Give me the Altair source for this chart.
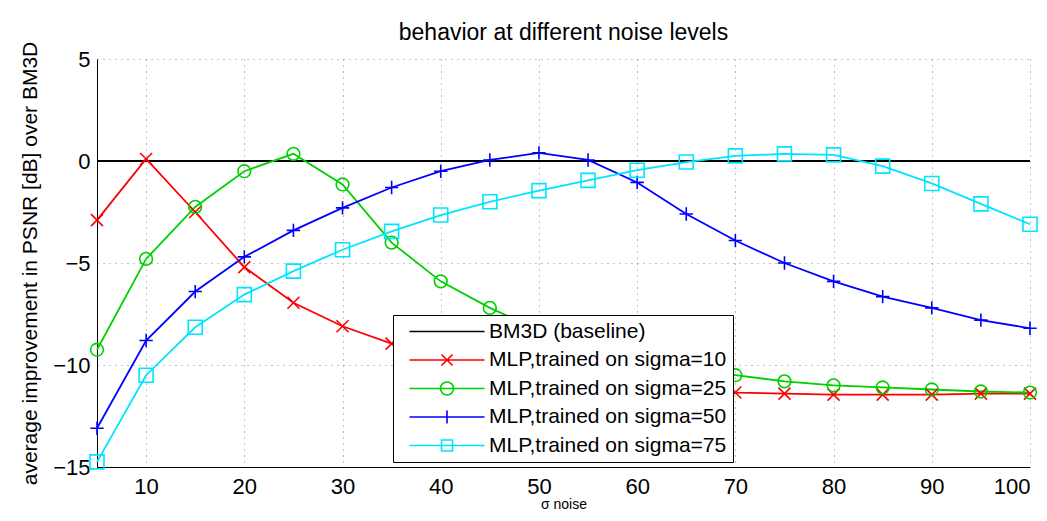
import altair as alt
import pandas as pd

sigma = [5, 10, 15, 20, 25, 30, 35, 40, 45, 50, 55, 60, 65, 70, 75, 80, 85, 90, 95, 100]
bm3d = [0] * 20
mlp10 = [-2.9, 0.1, -2.5, -5.2, -6.95, -8.1, -8.95, -9.6, -10.1, -10.5, -10.8, -11.0, -11.2,
         -11.35, -11.4, -11.45, -11.45, -11.45, -11.4, -11.4]
mlp25 = [-9.25, -4.8, -2.25, -0.5, 0.35, -1.15, -4.0, -5.9, -7.2, -8.3, -9.1, -9.7, -10.15,
         -10.5, -10.8, -11.0, -11.1, -11.2, -11.3, -11.35]
mlp50 = [-13.1, -8.8, -6.4, -4.7, -3.4, -2.3, -1.3, -0.5, 0.05, 0.4, 0.05, -1.05, -2.6,
         -3.9, -5.0, -5.9, -6.65, -7.2, -7.8, -8.2]
mlp75 = [-14.75, -10.5, -8.15, -6.55, -5.4, -4.35, -3.45, -2.65, -2.0, -1.45, -0.95, -0.45, -0.05,
         0.25, 0.35, 0.3, -0.25, -1.1, -2.1, -3.1]

names = ["BM3D (baseline)", "MLP,trained on sigma=10", "MLP,trained on sigma=25",
         "MLP,trained on sigma=50", "MLP,trained on sigma=75"]
colors = ["#000000", "#ff0000", "#00d000", "#0000ff", "#00e5ff"]
x_ticks = [10, 20, 30, 40, 50, 60, 70, 80, 90, 100]
y_ticks = [-15, -10, -5, 0, 5]

rows = []
for name, vals in zip(names, [bm3d, mlp10, mlp25, mlp50, mlp75]):
    for s, v in zip(sigma, vals):
        rows.append({"sigma": s, "psnr": v, "series": name})
df = pd.DataFrame(rows)

mlp_names = names[1:]
marker_shapes = ["M-1,-1L1,1M-1,1L1,-1", "circle", "M-1,0H1M0,-1V1", "square"]
marker_sizes = [144, 196, 196, 121]
legend_shapes = [
    "M0,0H15",
    "M0,0H15M6.4,-1.1L8.6,1.1M6.4,1.1L8.6,-1.1",
    "M0,0H15M8.8,0A1.3,1.3 0 1,1 6.2,0A1.3,1.3 0 1,1 8.8,0",
    "M0,0H15M7.5,-1.3V1.3",
    "M0,0H15M6.4,-1.1H8.6V1.1H6.4Z",
]

xenc = alt.X("sigma:Q", scale=alt.Scale(domain=[5, 100], nice=False, zero=False),
             axis=alt.Axis(values=x_ticks, title="σ noise"))
yenc = alt.Y("psnr:Q", scale=alt.Scale(domain=[-15, 5], nice=False),
             axis=alt.Axis(values=y_ticks, title="average improvement in PSNR [dB] over BM3D"))

base = alt.Chart(df)

lines = base.mark_line(strokeWidth=1.8).encode(
    x=xenc, y=yenc,
    color=alt.Color("series:N", scale=alt.Scale(domain=names, range=colors), legend=None),
    detail="series:N",
)

points = base.transform_filter(alt.datum.series != names[0]).mark_point(
    filled=False, strokeWidth=1.6, opacity=1
).encode(
    x=xenc, y=yenc,
    color=alt.Color("series:N", scale=alt.Scale(domain=mlp_names, range=colors[1:]), legend=None),
    shape=alt.Shape("series:N", scale=alt.Scale(domain=mlp_names, range=marker_shapes), legend=None),
    size=alt.Size("series:N", scale=alt.Scale(domain=mlp_names, range=marker_sizes), legend=None),
)

legend_layer = base.transform_filter(alt.datum.sigma < 0).mark_point(
    filled=False, strokeWidth=1.6, opacity=1, size=100
).encode(
    x=xenc, y=yenc,
    color=alt.Color("series:N", scale=alt.Scale(domain=names, range=colors),
                    legend=alt.Legend(title=None)),
    shape=alt.Shape("series:N", scale=alt.Scale(domain=names, range=legend_shapes),
                    legend=alt.Legend(title=None)),
)

chart = alt.layer(lines, points, legend_layer).resolve_scale(
    color="independent", shape="independent", size="independent"
).properties(
    width=933, height=408,
    autosize=alt.AutoSizeParams(type="none"),
    padding={"left": 89, "top": 51, "right": 9, "bottom": 44},
    title=alt.Title("behavior at different noise levels", fontSize=23, fontWeight="normal",
                    font="Liberation Sans", color="black", offset=-4),
).configure_view(stroke=None).configure_axis(
    labelFont="Liberation Sans", titleFont="Liberation Sans",
    labelFontSize=22, titleFontSize=21, titleFontWeight="normal",
    labelColor="black", titleColor="black",
    domainColor="black", domainWidth=1, tickSize=0,
    grid=True, gridColor="#888888", gridDash=[1, 5], gridWidth=1,
).configure_axisX(labelPadding=9, titlePadding=0, titleFontSize=14).configure_axisY(
    labelPadding=7, titlePadding=12
).configure_legend(
    orient="none", legendX=296, legendY=256,
    fillColor="white", strokeColor="black", strokeWidth=1,
    padding=6, rowPadding=6.5, labelFont="Liberation Sans", labelFontSize=21,
    labelColor="black", labelOffset=69, symbolStrokeWidth=1.6, symbolSize=100,
    labelLimit=400,
)

chart.save("out.html", embed_options={"renderer": "svg", "actions": False})
